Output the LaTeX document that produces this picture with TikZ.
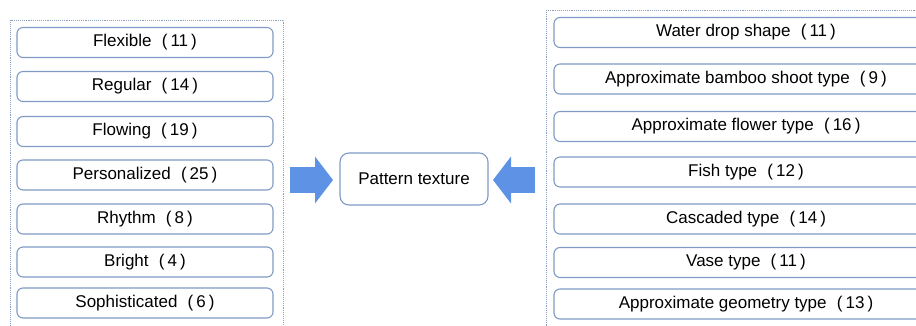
\documentclass[tikz,border=0pt]{standalone}
\usepackage{fontspec}
\setmainfont{Liberation Sans}
\usetikzlibrary{arrows.meta}
\definecolor{boxline}{HTML}{7F9AC4}
\definecolor{frameline}{HTML}{8DA0BC}
\definecolor{arrowblue}{HTML}{5E92E5}
\newcommand\cnt[1]{\hspace{0.6em}(\hspace{0.18em}#1\hspace{0.18em})}
\begin{document}
\begin{tikzpicture}[x=1pt, y=-1pt, font=\fontsize{17}{20}\selectfont]
    \tikzstyle{frame} = [draw=frameline, densely dotted, line width=0.9pt]
    \tikzstyle{featbox} = [rectangle, rounded corners=6pt, draw=boxline, line width=1.1pt, minimum width=256pt, minimum height=30pt, inner sep=0pt]
    \tikzstyle{typebox} = [featbox, minimum width=384pt]
    \tikzstyle{mainbox} = [rectangle, rounded corners=9pt, draw=boxline, line width=1.1pt, minimum width=148pt, minimum height=52pt, inner sep=0pt]
    \tikzstyle{blockarrow} = [draw=arrowblue, line width=26pt, -{Triangle[length=18pt, width=46pt]}]
    \clip (0,0) rectangle (916,326);
    % outer frames
    \draw[frame] (10.5,20.5) rectangle (283,345);
    \draw[frame] (546,10) rectangle (940,345);
    % left column
    \node[featbox] (f1) at (145,42.5) {Flexible\cnt{11}};
    \node[featbox] (f2) at (145,86.5) {Regular\cnt{14}};
    \node[featbox] (f3) at (145,131.5) {Flowing\cnt{19}};
    \node[featbox] (f4) at (145,175) {Personalized\cnt{25}};
    \node[featbox] (f5) at (145,219) {Rhythm\cnt{8}};
    \node[featbox] (f6) at (145,262) {Bright\cnt{4}};
    \node[featbox] (f7) at (145,303) {Sophisticated\cnt{6}};
    % right column
    \node[typebox] (t1) at (746,32.5) {Water drop shape\cnt{11}};
    \node[typebox] (t2) at (746,79) {Approximate bamboo shoot type\cnt{9}};
    \node[typebox] (t3) at (746,126.5) {Approximate flower type\cnt{16}};
    \node[typebox] (t4) at (746,172) {Fish type\cnt{12}};
    \node[typebox] (t5) at (746,219) {Cascaded type\cnt{14}};
    \node[typebox] (t6) at (746,262.5) {Vase type\cnt{11}};
    \node[typebox] (t7) at (746,304) {Approximate geometry type\cnt{13}};
    % centre
    \node[mainbox] (pt) at (414,179) {Pattern texture};
    \coordinate (la) at (290,180); \coordinate (lb) at (333,180);
    \coordinate (ra) at (535,180); \coordinate (rb) at (493,180);
    \draw[blockarrow] (la) -- (lb);
    \draw[blockarrow] (ra) -- (rb);
\end{tikzpicture}
\end{document}
